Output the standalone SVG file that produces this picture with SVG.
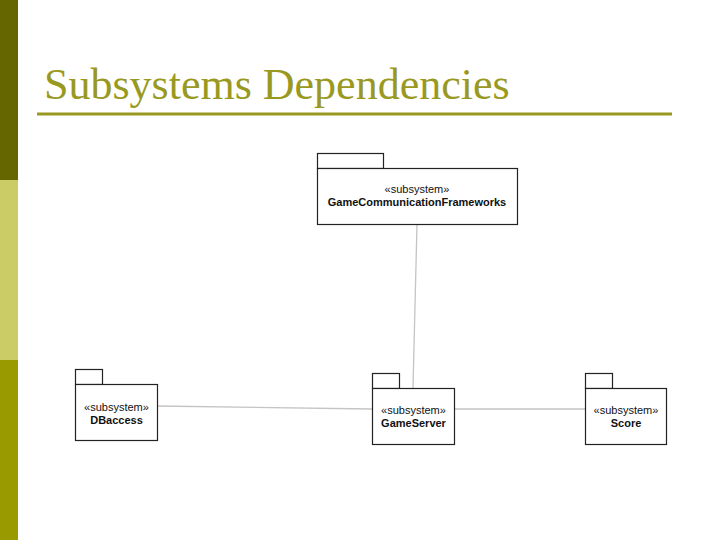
<svg xmlns="http://www.w3.org/2000/svg" width="720" height="540" viewBox="0 0 720 540">
<style>
.pkg{fill:#fff;stroke:#222;stroke-width:1.2}
.st{font-family:"Liberation Sans",Arial,sans-serif;font-size:11px;fill:#111;text-anchor:middle}
.nm{font-family:"Liberation Sans",Arial,sans-serif;font-size:11px;font-weight:bold;fill:#111;text-anchor:middle}
.con{stroke:#c4c4c4;stroke-width:1.3;fill:none}
</style>
<rect x="0" y="0" width="720" height="540" fill="#fff"/>
<rect x="0" y="0" width="18" height="180" fill="#666600"/>
<rect x="0" y="180" width="18" height="180" fill="#cccc66"/>
<rect x="0" y="360" width="18" height="180" fill="#999900"/>
<text x="44" y="99" font-family="'Liberation Serif','Times New Roman',serif" font-size="44" fill="#999922">Subsystems Dependencies</text>
<rect x="37" y="112.5" width="635" height="3" fill="#999922"/>
<g id="connectors">
<line class="con" x1="417" y1="224" x2="413" y2="388"/>
<line class="con" x1="157" y1="406" x2="372" y2="409"/>
<line class="con" x1="454" y1="409" x2="585" y2="409"/>
</g>
<g id="gcf">
<rect class="pkg" x="317.5" y="153.5" width="66" height="15"/>
<rect class="pkg" x="317.5" y="168.5" width="200" height="56"/>
<text class="st" x="417" y="193">«subsystem»</text>
<text class="nm" x="417" y="206">GameCommunicationFrameworks</text>
</g>
<g id="dbaccess">
<rect class="pkg" x="75.5" y="369.5" width="27" height="15"/>
<rect class="pkg" x="75.5" y="384.5" width="82" height="56"/>
<text class="st" x="116.5" y="411">«subsystem»</text>
<text class="nm" x="116.5" y="424">DBaccess</text>
</g>
<g id="gameserver">
<rect class="pkg" x="372.5" y="373.5" width="27" height="15"/>
<rect class="pkg" x="372.5" y="388.5" width="82" height="56"/>
<text class="st" x="413.5" y="414">«subsystem»</text>
<text class="nm" x="413.5" y="427">GameServer</text>
</g>
<g id="score">
<rect class="pkg" x="585.5" y="373.5" width="27" height="15"/>
<rect class="pkg" x="585.5" y="388.5" width="81" height="56"/>
<text class="st" x="626" y="414">«subsystem»</text>
<text class="nm" x="626" y="427">Score</text>
</g>
</svg>
